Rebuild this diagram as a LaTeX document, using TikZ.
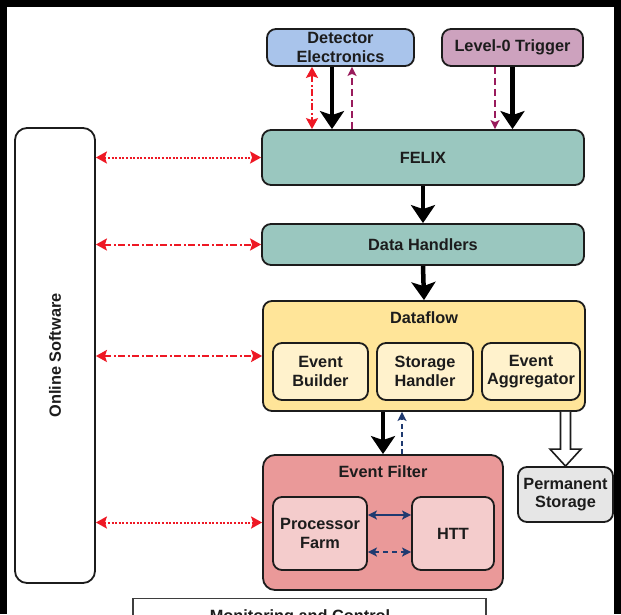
\documentclass[tikz,border=0pt]{standalone}
\usepackage{fontspec}
\setmainfont{Liberation Sans}
\usepackage{tikz}
\usepackage{xcolor}
\usetikzlibrary{arrows.meta,calc}
\definecolor{detector}{RGB}{169,196,235}
\definecolor{trigger}{RGB}{205,162,190}
\definecolor{readout}{RGB}{154,199,191}
\definecolor{dataflow}{RGB}{255,229,153}
\definecolor{dataflow_sub}{RGB}{255,242,204}
\definecolor{filter}{RGB}{234,153,153}
\definecolor{filter_sub}{RGB}{244,204,204}
\definecolor{storage}{RGB}{230,230,230}
\definecolor{online}{RGB}{238,24,36}
\definecolor{busy}{RGB}{153,27,92}
\definecolor{feedback}{RGB}{31,58,112}
\definecolor{outline}{RGB}{28,28,28}

\tikzset{
    box/.style = {draw=outline, line width=1.8pt, rounded corners=9pt,
                  font=\fontsize{16.3}{18.5}\selectfont\bfseries,
                  text=outline, align=center, inner sep=0pt},
    title/.style = {font=\fontsize{16.3}{18.5}\selectfont\bfseries,
                    text=outline, inner sep=0pt},
    datalink/.style = {draw=black, line width=4.5pt,
                       -{Stealth[length=18pt,width=24pt,inset=4pt]}},
    oslink/.style = {draw=online, line width=2pt,
                     {Stealth[length=11pt,width=12pt,inset=2pt]}-{Stealth[length=11pt,width=12pt,inset=2pt]}},
    busylink/.style = {draw=busy, line width=2pt, dash pattern=on 7pt off 4pt,
                       -{Stealth[length=9pt,width=9pt,inset=2pt]}},
    fblink/.style = {draw=feedback, line width=2pt,
                     -{Stealth[length=9pt,width=9pt,inset=2pt]}},
    dotline/.style = {dash pattern=on 2pt off 1.6pt},
    dashdotline/.style = {dash pattern=on 7pt off 2.5pt on 2pt off 2.5pt}
}

\begin{document}
\begin{tikzpicture}[x=1pt, y=-1pt]
    \fill[black] (0,0) rectangle (621,614);
    \fill[white] (7,7) rectangle (614,614);
    \useasboundingbox (0,0) rectangle (621,614);
    \clip (0,0) rectangle (621,614);

    % sources
    \node[box, fill=detector, minimum width=147pt, minimum height=37pt] (det) at (340.5,47.5) {Detector\\Electronics};
    \node[box, fill=trigger, minimum width=141pt, minimum height=37pt] (lvl) at (512.5,47.5) {Level-0 Trigger};

    % readout chain
    \node[box, fill=readout, minimum width=322pt, minimum height=55pt] (felix) at (423,157.5) {FELIX};
    \node[box, fill=readout, minimum width=322pt, minimum height=41pt] (dh) at (423,244.5) {Data Handlers};

    \node[box, fill=dataflow, minimum width=322pt, minimum height=110pt] (dataflow) at (424,356) {};
    \node[title] (dftitle) at (424,318) {Dataflow};
    \node[box, fill=dataflow_sub, minimum width=95pt, minimum height=57pt] (eb) at (320.5,371.5) {Event\\Builder};
    \node[box, fill=dataflow_sub, minimum width=96pt, minimum height=57pt] (sh) at (425,371.5) {Storage\\Handler};
    \node[box, fill=dataflow_sub, minimum width=98pt, minimum height=57pt] (ea) at (531,371.5) {Event\\Aggregator};

    \node[box, fill=filter, rounded corners=12pt, minimum width=240pt, minimum height=135pt] (ef) at (383,522.5) {};
    \node[title] (eftitle) at (383,472) {Event Filter};
    \node[box, fill=filter_sub, minimum width=94pt, minimum height=73pt] (pf) at (320,533.5) {Processor\\Farm};
    \node[box, fill=filter_sub, minimum width=82pt, minimum height=73pt] (htt) at (453,533.5) {HTT};

    \node[box, fill=storage, minimum width=95pt, minimum height=55pt] (store) at (565.5,494.5) {Permanent\\Storage};

    \node[box, rotate=90, rounded corners=12pt, minimum width=455pt, minimum height=80pt] (sw) at (55,355.5) {Online Software};

    \node[draw=outline!85, line width=1.2pt, minimum width=353pt, minimum height=50pt, anchor=north] (mon) at (309.5,598) {};
    \node[title, anchor=north] (montitle) at (300,609) {Monitoring and Control};

    % data path
    \draw[datalink] ($(det.south)+(-8.5,0)$) -- ($(det.south |- felix.north)+(-8.5,0)$);
    \draw[datalink] (lvl.south) -- (lvl.south |- felix.north);
    \draw[datalink] (felix.south) -- (dh.north);
    \draw[datalink] (dh.south) -- (dataflow.north);
    \draw[datalink] (dataflow.south -| ef.north) -- (ef.north);

    \draw[line width=1.6pt, draw=outline, fill=white, line join=miter]
        ($(dataflow.south -| store.north)+(-5,0)$) -- ($(store.north)+(-5,-17)$)
        -- ($(store.north)+(-15.5,-17)$) -- (store.north) -- ($(store.north)+(15.5,-17)$)
        -- ($(store.north)+(5,-17)$) -- ($(dataflow.south -| store.north)+(5,0)$);

    % busy and trigger signals
    \draw[busylink] ($(felix.north -| det.south)+(11.5,0)$) -- ($(det.south)+(11.5,0)$);
    \draw[busylink] ($(lvl.south)+(-17.5,0)$) -- ($(lvl.south |- felix.north)+(-17.5,0)$);
    \draw[oslink, dashdotline] ($(det.south)+(-28.5,0)$) -- ($(det.south |- felix.north)+(-28.5,0)$);

    % online software links
    \draw[oslink, dotline] (sw.south |- felix.west) -- (felix.west);
    \draw[oslink, dashdotline] (sw.south |- dh.west) -- (dh.west);
    \draw[oslink, dashdotline] (sw.south |- dataflow.west) -- (dataflow.west);
    \draw[oslink, dotline] (sw.south |- ef.west) -- (ef.west);

    % event filter
    \draw[fblink, dash pattern=on 5pt off 3.5pt] ($(ef.north)+(19,0)$) -- ($(dataflow.south -| ef.north)+(19,0)$);
    \draw[fblink, {Stealth[length=9pt,width=9pt,inset=2pt]}-{Stealth[length=9pt,width=9pt,inset=2pt]}]
        ($(pf.east)+(0,-18.5)$) -- ($(htt.west)+(0,-18.5)$);
    \draw[fblink, dash pattern=on 5pt off 4pt, {Stealth[length=9pt,width=9pt,inset=2pt]}-{Stealth[length=9pt,width=9pt,inset=2pt]}]
        ($(pf.east)+(0,18.5)$) -- ($(htt.west)+(0,18.5)$);
\end{tikzpicture}
\end{document}
